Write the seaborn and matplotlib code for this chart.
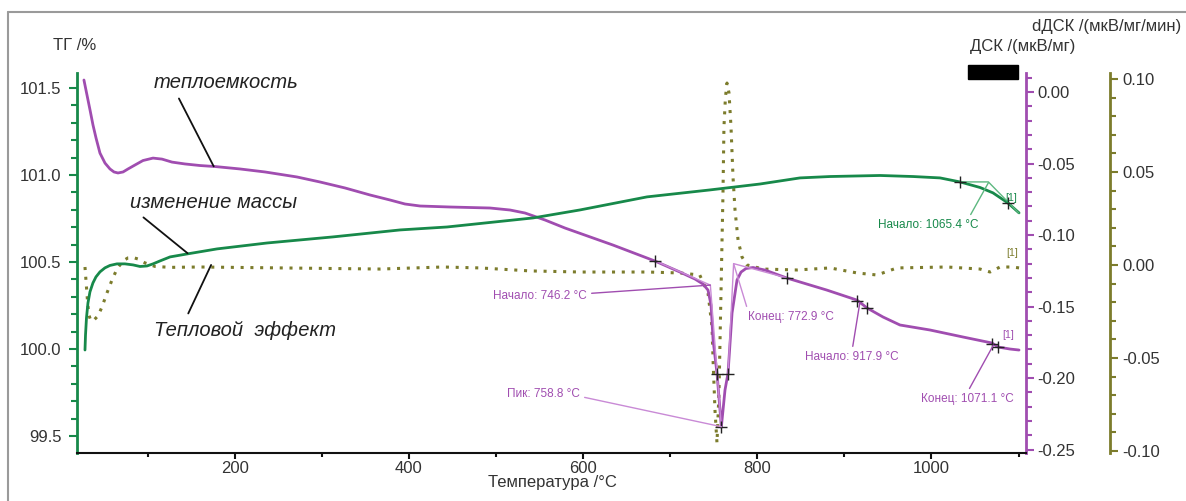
import seaborn as sns
from matplotlib import pyplot as plt
from matplotlib.lines import Line2D
from matplotlib.patches import Rectangle
from matplotlib.ticker import MultipleLocator

# DSC (теплоемкость), мкВ/мг
t_dsc = [27, 30.5, 34, 37.4, 40.9, 45.4, 51.2, 56.9, 61.5, 66.1, 71.9, 77.6, 85.7, 94.8, 106.3,
         116.6, 128.1, 143, 160.3, 177.5, 206.2, 234.9, 271.6, 298, 326.8, 355.5, 378.4, 395.6,
         412.9, 447.3, 493.2, 516.2, 533.4, 556.4, 579.3, 634.4, 682.7, 711.4, 728.6, 737.8,
         743.5, 747, 749.3, 753.8, 757.3, 758.8, 763, 766.5, 771.1, 776.8, 781.4, 787.1, 795.2,
         809, 834.2, 880, 914.6, 926.1, 944.4, 963.9, 998.4, 1036.3, 1069.6, 1076.5, 1090.2, 1100.6]
dsc = [0.0084, -0.0021, -0.0126, -0.0231, -0.0322, -0.0427, -0.0497, -0.0538, -0.0559, -0.0566,
       -0.0559, -0.0538, -0.0510, -0.0479, -0.0462, -0.0469, -0.0490, -0.0503, -0.0514, -0.0521,
       -0.0538, -0.0559, -0.0594, -0.0629, -0.0671, -0.0720, -0.0755, -0.0783, -0.0797, -0.0804,
       -0.0811, -0.0825, -0.0846, -0.0895, -0.0951, -0.1070, -0.1182, -0.1259, -0.1308, -0.1343,
       -0.1385, -0.1490, -0.1734, -0.1965, -0.2224, -0.2343, -0.2084, -0.1965, -0.1545, -0.1315,
       -0.1259, -0.1234, -0.1227, -0.1245, -0.1301, -0.1385, -0.1455, -0.1510, -0.1573, -0.1629,
       -0.1664, -0.1713, -0.1755, -0.1783, -0.1797, -0.1804]

# ТГ (изменение массы), %
t_tg = [28.2, 28.8, 29.9, 31.6, 33.9, 37.3, 40.8, 45.4, 51.1, 56.9, 64.9, 74.1, 83.4, 91.4, 99.4,
        106.3, 114.4, 125.9, 145.4, 179.8, 237.2, 313, 389.9, 443.9, 542.6, 596.6, 673.5, 745.8,
        803.2, 849.1, 883.6, 941, 978.9, 1009.9, 1032.8, 1055.8, 1070.7, 1087.9, 1100.6]
tg = [99.994, 100.080, 100.178, 100.264, 100.328, 100.379, 100.414, 100.443, 100.466, 100.480,
      100.489, 100.489, 100.483, 100.474, 100.477, 100.489, 100.506, 100.529, 100.546, 100.575,
      100.609, 100.644, 100.684, 100.701, 100.753, 100.799, 100.874, 100.914, 100.948, 100.983,
      100.991, 100.997, 100.991, 100.983, 100.960, 100.928, 100.897, 100.839, 100.782]

# dДСК (тепловой эффект), мкВ/мг/мин
t_ddsc = [28.2, 29.3, 31, 32.7, 35, 38.5, 43.1, 47.7, 53.4, 59.2, 64.9, 71.8, 77.6, 83.4, 89.1,
          97.1, 108.6, 125.9, 160, 367, 439, 482, 539, 597, 674, 711, 734, 743.5, 748.1, 749.3,
          751.5, 753.8, 756.1, 758.4, 760.7, 761.8, 763.5, 765.3, 767.6, 769.9, 772.2, 774.5, 778,
          782.5, 788.3, 806.7, 845.7, 883.6, 914.6, 937.5, 960.5, 1017.9, 1055.8, 1067.3, 1078.8,
          1093.7, 1100.6]
ddsc = [-0.0011, -0.0081, -0.0188, -0.0269, -0.0301, -0.0296, -0.0274, -0.0226, -0.0151, -0.0081,
        -0.0022, 0.0022, 0.0038, 0.0040, 0.0032, 0.0011, -0.0008, -0.0013, -0.0011, -0.0022,
        -0.0011, -0.0016, -0.0032, -0.0038, -0.0038, -0.0043, -0.0054, -0.0151, -0.0333, -0.0511,
        -0.0780, -0.0957, -0.0688, -0.0151, 0.0387, 0.0742, 0.0900, 0.0978, 0.0925, 0.0742,
        0.0473, 0.0296, 0.0134, 0.0043, 0.0000, -0.0022, -0.0027, -0.0016, -0.0043, -0.0054,
        -0.0016, -0.0011, -0.0022, -0.0038, -0.0011, -0.0011, -0.0016]

# characteristic points (+)
mark_t_dsc = [682.7, 753.8, 758.8, 766.5, 834.2, 914.6, 926.1, 1069.6, 1076.5]
mark_dsc = [-0.118, -0.197, -0.234, -0.197, -0.130, -0.146, -0.151, -0.176, -0.178]
mark_t_tg = [1032.8, 1087.9]
mark_tg = [100.96, 100.84]

# tangent constructions
tan1_t, tan1_v = [682.7, 746.2, 758.8], [-0.118, -0.135, -0.234]
tan2_t, tan2_v = [766.5, 772.9, 834.2], [-0.197, -0.120, -0.130]
tan3_t, tan3_v = [1032.8, 1065.4, 1100.6], [100.96, 100.96, 100.78]

PURPLE = '#a04db0'
PURPLE_L = '#c98ad6'
GREEN = '#17894a'
GREEN_L = '#5db880'
OLIVE = '#7c7c2c'
TXT = '#333333'

sns.set_style('ticks')
plt.rcParams['font.family'] = ['Liberation Sans', 'DejaVu Sans']

fig = plt.figure(figsize=(11.86, 5.01), dpi=100)
ax1 = fig.add_axes([0.0649, 0.0958, 0.8002, 0.7585])
ax2 = ax1.twinx()
ax3 = ax1.twinx()
ax1.set_zorder(3)
ax2.set_zorder(2)
ax3.set_zorder(1)
ax1.patch.set_visible(False)
ax2.patch.set_visible(False)

sns.lineplot(x=t_ddsc, y=ddsc, ax=ax3, color=OLIVE, lw=2.2, linestyle=(0, (1, 2.2)), legend=False)
sns.lineplot(x=t_dsc, y=dsc, ax=ax2, color=PURPLE, lw=2.0, legend=False)
sns.lineplot(x=t_tg, y=tg, ax=ax1, color=GREEN, lw=2.0, legend=False)

ax2.plot(tan1_t, tan1_v, color=PURPLE_L, lw=1)
ax2.plot(tan2_t, tan2_v, color=PURPLE_L, lw=1)
ax1.plot(tan3_t, tan3_v, color=GREEN_L, lw=1)
ax2.plot(mark_t_dsc, mark_dsc, '+', color='#222222', ms=9, mew=1)
ax1.plot(mark_t_tg, mark_tg, '+', color='#222222', ms=9, mew=1)

ax1.set_xlim(19, 1108.6)
ax1.set_ylim(99.402, 101.586)
ax2.set_ylim(-0.2524, 0.0133)
ax3.set_ylim(-0.1011, 0.1032)

for ax in (ax1, ax2, ax3):
    for s in ax.spines.values():
        s.set_visible(False)
    ax.set_xlabel('')
    ax.set_ylabel('')

ax1.spines['left'].set_visible(True)
ax1.spines['left'].set_color(GREEN)
ax1.spines['left'].set_linewidth(2)
ax1.spines['bottom'].set_visible(True)
ax1.spines['bottom'].set_color('#111111')
ax1.spines['bottom'].set_linewidth(1.5)
ax2.spines['right'].set_visible(True)
ax2.spines['right'].set_color(PURPLE)
ax2.spines['right'].set_linewidth(2)
ax3.spines['right'].set_visible(True)
ax3.spines['right'].set_position(('axes', 1.0885))
ax3.spines['right'].set_color(OLIVE)
ax3.spines['right'].set_linewidth(2)

ax1.xaxis.set_major_locator(MultipleLocator(200))
ax1.xaxis.set_minor_locator(MultipleLocator(100))
ax1.yaxis.set_major_locator(MultipleLocator(0.5))
ax1.yaxis.set_minor_locator(MultipleLocator(0.1))
ax2.yaxis.set_major_locator(MultipleLocator(0.05))
ax2.yaxis.set_minor_locator(MultipleLocator(0.01))
ax3.yaxis.set_major_locator(MultipleLocator(0.05))
ax3.yaxis.set_minor_locator(MultipleLocator(0.01))
ax1.yaxis.set_major_formatter(plt.FormatStrFormatter('%.1f'))
ax2.yaxis.set_major_formatter(plt.FormatStrFormatter('%.2f'))
ax3.yaxis.set_major_formatter(plt.FormatStrFormatter('%.2f'))

ax1.tick_params(axis='x', which='major', length=4, width=1.5, color='#111111',
                labelsize=12, labelcolor=TXT, pad=2)
ax1.tick_params(axis='x', which='minor', length=3, width=1.5, color='#111111')
ax1.tick_params(axis='y', which='major', length=6, width=1.5, color=GREEN,
                labelsize=12, labelcolor=TXT, pad=5)
ax1.tick_params(axis='y', which='minor', length=4, width=1.5, color=GREEN)
ax2.tick_params(axis='y', which='major', length=6, width=1.5, color=PURPLE,
                labelsize=12, labelcolor=TXT, pad=2)
ax2.tick_params(axis='y', which='minor', length=4, width=1.5, color=PURPLE)
ax3.tick_params(axis='y', which='major', length=6, width=1.5, color=OLIVE,
                labelsize=12, labelcolor=TXT, pad=3)
ax3.tick_params(axis='y', which='minor', length=4, width=1.5, color=OLIVE)
ax2.tick_params(axis='x', bottom=False, labelbottom=False)
ax3.tick_params(axis='x', bottom=False, labelbottom=False)

# axis titles
fig.text(75 / 1186, 1 - 45 / 501, 'ТГ /%', fontsize=12, color=TXT, ha='center', va='center')
fig.text(970 / 1186, 1 - 46 / 501, 'ДСК /(мкВ/мг)', fontsize=12, color=TXT, ha='left', va='center')
fig.text(1032 / 1186, 1 - 27 / 501, 'dДСК /(мкВ/мг/мин)', fontsize=12, color=TXT, ha='left', va='center')
fig.text(552 / 1186, 1 - 483 / 501, 'Температура /°C', fontsize=12, color=TXT, ha='center', va='center')

# curve names
lead = dict(arrowstyle='-', color='#111111', lw=1.3, shrinkA=3, shrinkB=0)
ax2.annotate('теплоемкость', xy=(176, -0.052), xytext=(226, 501 - 82), textcoords='figure pixels',
             fontsize=14.5, style='italic', color='#222222', ha='center', va='center',
             arrowprops=dict(lead, relpos=(0.15, 0)))
ax1.annotate('изменение массы', xy=(146, 100.55), xytext=(213, 501 - 202), textcoords='figure pixels',
             fontsize=14.5, style='italic', color='#222222', ha='center', va='center',
             arrowprops=dict(lead, relpos=(0.04, 0)))
ax3.annotate('Тепловой  эффект', xy=(173, 0.0), xytext=(245, 501 - 330), textcoords='figure pixels',
             fontsize=14.5, style='italic', color='#222222', ha='center', va='center',
             arrowprops=dict(lead, relpos=(0.17, 1)))

# analysis labels
thin = dict(arrowstyle='-', lw=1, shrinkA=1, shrinkB=0)
ax2.annotate('Начало: 746.2 °C', xy=(746.2, -0.135), xytext=(587, 501 - 296), textcoords='figure pixels',
             fontsize=8.5, color=PURPLE, ha='right', va='center',
             arrowprops=dict(thin, color=PURPLE, relpos=(1, 0.7)))
ax2.annotate('Пик: 758.8 °C', xy=(758.8, -0.234), xytext=(580, 501 - 394), textcoords='figure pixels',
             fontsize=8.5, color=PURPLE, ha='right', va='center',
             arrowprops=dict(thin, color=PURPLE_L, relpos=(1, 0.3)))
ax2.annotate('Конец: 772.9 °C', xy=(772.9, -0.120), xytext=(748, 501 - 317), textcoords='figure pixels',
             fontsize=8.5, color=PURPLE, ha='left', va='center',
             arrowprops=dict(thin, color=PURPLE_L, relpos=(0, 1)))
ax2.annotate('Начало: 917.9 °C', xy=(917.9, -0.147), xytext=(852, 501 - 357), textcoords='figure pixels',
             fontsize=8.5, color=PURPLE, ha='center', va='center',
             arrowprops=dict(thin, color=PURPLE, relpos=(0.5, 1)))
ax2.annotate('Конец: 1071.1 °C', xy=(1071.1, -0.177), xytext=(967, 501 - 399), textcoords='figure pixels',
             fontsize=8.5, color=PURPLE, ha='center', va='center',
             arrowprops=dict(thin, color=PURPLE, relpos=(0.5, 1)))
ax1.annotate('Начало: 1065.4 °C', xy=(1065.4, 100.955), xytext=(928, 501 - 225), textcoords='figure pixels',
             fontsize=8.5, color=GREEN, ha='center', va='center',
             arrowprops=dict(thin, color=GREEN_L, relpos=(0.9, 1)))

ax2.text(1088, -0.170, '[1]', fontsize=7.5, color=PURPLE, ha='center', va='center')
ax3.text(1093, 0.0065, '[1]', fontsize=7.5, color=OLIVE, ha='center', va='center')
ax1.text(1092, 100.87, '[1]', fontsize=7.5, color=GREEN, ha='center', va='center')

# frame and masked block
fig.add_artist(Line2D([8 / 1186, 8 / 1186], [0, 1 - 12 / 501], transform=fig.transFigure,
                      color='#9a9a9a', lw=1.5))
fig.add_artist(Line2D([8 / 1186, 1], [1 - 12 / 501, 1 - 12 / 501], transform=fig.transFigure,
                      color='#9a9a9a', lw=1.5))
fig.add_artist(Rectangle((968 / 1186, 1 - 79 / 501), 50 / 1186, 14 / 501,
                         transform=fig.transFigure, color='black'))

fig.savefig('out.png', dpi=100)
